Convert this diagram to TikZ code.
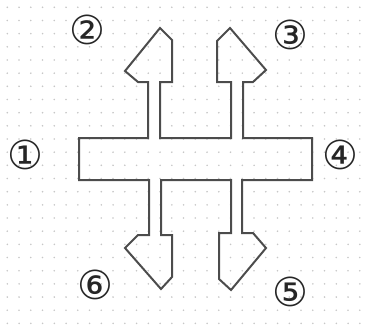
\documentclass[tikz,border=0pt]{standalone}
\usepackage{fontspec}
\newfontfamily\circfont{DejaVu Sans}
\usepackage{tikz}

\begin{document}
\begin{tikzpicture}[x=1pt,y=-1pt,line width=2pt,line join=miter]
    \useasboundingbox (0,0) rectangle (371,330);
    \tikzset{numlabel/.style={font=\circfont\fontsize{40}{40}\selectfont, text=black!85, inner sep=0pt}}
    \foreach \i in {0,...,30} {
      \foreach \j in {0,...,24} {
        \fill[black!22] (7.3+11.75*\i, 7.3+13.17*\j) circle (0.9);
      }
    }
    \draw[black!70] (79,138) -- (148,138) -- (148,82) -- (138,82) -- (125,71) -- (160,28) -- (172,40) -- (172,82) -- (160,82) -- (160,138)
      -- (231,138) -- (231,82) -- (217,82) -- (217,41) -- (230,28) -- (266,70) -- (253,82) -- (243,82) -- (243,138)
      -- (312,138) -- (312,180) -- (242,180) -- (242,233) -- (253,233) -- (266,248) -- (231,290) -- (219,279) -- (219,233) -- (231,233) -- (231,180)
      -- (161,180) -- (161,235) -- (172,235) -- (172,277) -- (161,289) -- (125,248) -- (138,235) -- (149,235) -- (149,180) -- (79,180) -- cycle;
    \node[numlabel] (n1) at (25,155) {①};
    \node[numlabel] (n2) at (87,30) {②};
    \node[numlabel] (n3) at (290,35) {③};
    \node[numlabel] (n4) at (340,155) {④};
    \node[numlabel] (n5) at (290,292) {⑤};
    \node[numlabel] (n6) at (95,285) {⑥};
  \end{tikzpicture}
\end{document}
